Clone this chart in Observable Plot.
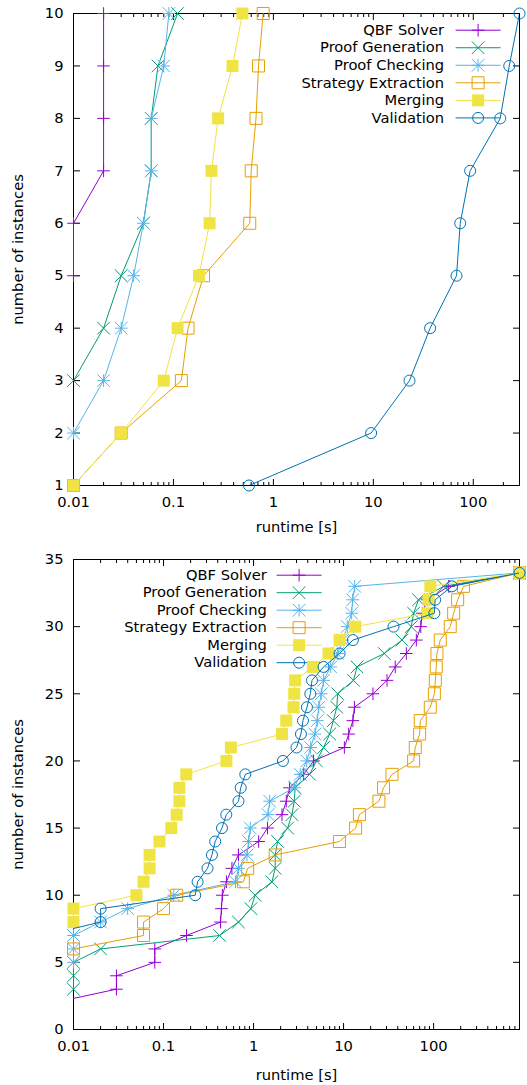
<!DOCTYPE html>
<html><head><meta charset="utf-8">
<script src="https://cdn.jsdelivr.net/npm/d3@7"></script>
<script src="https://cdn.jsdelivr.net/npm/@observablehq/plot@0.6"></script>
<style>body{margin:0;background:#fff;} #chart svg{display:block;}</style>
</head><body><div id="chart"></div>
<script>
const seriesNames = ["QBF Solver","Proof Generation","Proof Checking","Strategy Extraction","Merging","Validation"];
const seriesColors = ["#9400d3","#009e73","#56b4e9","#e69f00","#f0e442","#0072b2"];
const xLabel = "runtime [s]";
const yLabel = "number of instances";
const xMajorTicks = [0.01, 0.1, 1, 10, 100];

// ---- top panel (runtime for instance count n) ----
const topYTicks = [1,2,3,4,5,6,7,8,9,10];
const topStart = [5, 3, 2, 1, 1, 1];
const topQbf        = [0.01, 0.01, 0.02, 0.02, 0.02, 0.02];
const topProofGen   = [0.01, 0.02, 0.03, 0.05, 0.06, 0.06, 0.07, 0.11];
const topProofCheck = [0.01, 0.02, 0.03, 0.04, 0.05, 0.06, 0.06, 0.08, 0.09];
const topStrategy   = [0.01, 0.03, 0.12, 0.14, 0.2, 0.58, 0.6, 0.67, 0.71, 0.79];
const topMerging    = [0.01, 0.03, 0.08, 0.11, 0.18, 0.23, 0.24, 0.28, 0.39, 0.49];
const topValidation = [0.57, 9.5, 23, 37, 68, 74, 93, 186, 229, 290];

// ---- bottom panel ----
const botYTicks = [0,5,10,15,20,25,30,35];
const botStart = [2, 3, 5, 6, 8, 7];
const botQbf        = [0.006,0.03,0.03,0.08,0.08,0.18,0.43,0.44,0.45,0.5,0.575,0.68,1.14,1.43,2.07,2.31,2.51,3.6,4.64,10.2,11.4,12.7,13.2,21.2,30.4,37.5,49.8,64.3,72,75,85,147,900];
const botProofGen   = [0.01,0.01,0.01,0.02,0.42,0.68,0.935,1.04,1.6,1.74,1.74,1.85,2.39,2.67,2.83,2.9,4.2,5.0,6.0,7.0,7.7,8.4,8.6,12.9,14.1,28.3,44.6,56.5,60,68,130,900];
const botProofCheck = [0.01,0.01,0.01,0.02,0.04,0.13,0.63,0.68,0.845,0.88,0.92,1.45,1.51,2.85,3.3,3.9,4.3,4.8,5.1,5.3,5.65,6.0,7.2,8.6,9.8,11.0,12.3,12.6,13.3,900];
const botStrategy   = [0.01,0.06,0.06,0.1,0.14,0.77,0.86,1.74,9.0,13.6,15,24.7,27.8,34.5,60,62.6,69.9,71.1,91.9,102,104.5,107,109,118.6,153,167,185,215,900];
const botMerging    = [0.01,0.01,0.05,0.06,0.07,0.07,0.09,0.122,0.14,0.15,0.15,0.179,0.5,0.56,2.07,2.31,2.78,2.83,2.9,4.57,6.81,9.03,13.5,86,88,92,900];
const botValidation = [0.0047,0.02,0.02,0.225,0.239,0.308,0.345,0.375,0.446,0.498,0.68,0.72,0.81,2.12,3.0,3.36,3.54,3.92,4.27,4.46,6.0,9.03,12.7,35.9,102,104,160,900];

// ---- symbols (gnuplot point types) ----
const A = 6.3;
const symPlus = {draw(c){c.moveTo(-A,0);c.lineTo(A,0);c.moveTo(0,-A);c.lineTo(0,A);}};
const symTimes = {draw(c){c.moveTo(-A,-A);c.lineTo(A,A);c.moveTo(-A,A);c.lineTo(A,-A);}};
const symAst = {draw(c){c.moveTo(-A,0);c.lineTo(A,0);c.moveTo(0,-A);c.lineTo(0,A);c.moveTo(-A,-A);c.lineTo(A,A);c.moveTo(-A,A);c.lineTo(A,-A);}};
const S = 6;
const symSquare = {draw(c){c.moveTo(-S,-S);c.lineTo(S,-S);c.lineTo(S,S);c.lineTo(-S,S);c.closePath();}};
const R = 5.5;
const symCircle = {draw(c){c.moveTo(R,0);c.arc(0,0,R,0,2*Math.PI);}};
const seriesSymbols = [symPlus, symTimes, symAst, symSquare, symSquare, symCircle];
const seriesFilled = [false, false, false, false, true, false];
const vTick = (l) => ({draw(c){c.moveTo(0,0);c.lineTo(0,l);}});
const hTick = (l) => ({draw(c){c.moveTo(0,0);c.lineTo(l,0);}});
const hSample = {draw(c){c.moveTo(-22.5,0);c.lineTo(22.5,0);}};

function rows(xs, start){ return xs.map((x,i)=>({x, y: start + i})); }

function panel(o){
  const marks = [];
  const minor = d3.scaleLog().domain(o.xDomain).ticks().filter(t => !xMajorTicks.some(m => Math.abs(m - t) < 1e-9));
  marks.push(Plot.frame({stroke:"black", strokeWidth:1}));
  const tk = {stroke:"black", fill:"none", strokeWidth:1};
  marks.push(Plot.dot(xMajorTicks, {x:d=>d, frameAnchor:"bottom", symbol: vTick(-6.5), ...tk}));
  marks.push(Plot.dot(xMajorTicks, {x:d=>d, frameAnchor:"top", symbol: vTick(6.5), ...tk}));
  marks.push(Plot.dot(minor, {x:d=>d, frameAnchor:"bottom", symbol: vTick(-3.5), ...tk}));
  marks.push(Plot.dot(minor, {x:d=>d, frameAnchor:"top", symbol: vTick(3.5), ...tk}));
  marks.push(Plot.dot(o.yTicks, {y:d=>d, frameAnchor:"left", symbol: hTick(6.5), ...tk}));
  marks.push(Plot.dot(o.yTicks, {y:d=>d, frameAnchor:"right", symbol: hTick(-6.5), ...tk}));
  marks.push(Plot.axisX({ticks: xMajorTicks, tickSize: 0, tickPadding: 11, tickFormat: d => String(d), label: null}));
  marks.push(Plot.axisY({ticks: o.yTicks, tickSize: 0, tickPadding: 10, tickFormat: d => String(d), label: null}));
  marks.push(Plot.text([xLabel], {frameAnchor:"bottom", dy: o.xLabelDy, lineAnchor:"middle", textAnchor:"middle", text: d=>d}));
  marks.push(Plot.text([yLabel], {frameAnchor:"left", dx: -55, rotate: -90, textAnchor:"middle", lineAnchor:"middle", text: d=>d}));
  // legend
  seriesNames.forEach((name, i) => {
    const dy = o.legDy0 + i * o.legStep;
    const col = seriesColors[i];
    marks.push(Plot.text([name], {frameAnchor:"top-right", dx: o.legTextDx, dy, textAnchor:"end", lineAnchor:"middle", text:d=>d, fill:"black"}));
    marks.push(Plot.dot([name], {frameAnchor:"top-right", dx: o.legSampleDx, dy, symbol: hSample, stroke: col, fill:"none", strokeWidth:1}));
    marks.push(Plot.dot([name], {frameAnchor:"top-right", dx: o.legSampleDx, dy, symbol: seriesSymbols[i],
      stroke: seriesFilled[i] ? "none" : col, fill: seriesFilled[i] ? col : "none", strokeWidth:1}));
  });
  // data
  o.series.forEach((xs, i) => {
    const data = rows(xs, o.starts[i]);
    const col = seriesColors[i];
    marks.push(Plot.line(data, {x:"x", y:"y", stroke: col, strokeWidth:1, clip: true}));
    marks.push(Plot.dot(data.filter(d => d.x >= o.xDomain[0]), {x:"x", y:"y", symbol: seriesSymbols[i],
      stroke: seriesFilled[i] ? "none" : col, fill: seriesFilled[i] ? col : "none", strokeWidth:1}));
  });
  return Plot.plot({
    width: 527, height: o.height,
    marginLeft: 73, marginRight: 8, marginTop: o.marginTop, marginBottom: o.marginBottom,
    style: {fontFamily: "DejaVu Sans", fontSize: "14.7px", background: "white", color: "black"},
    x: {type: "log", domain: o.xDomain},
    y: {domain: o.yDomain},
    marks
  });
}

const chart = document.getElementById("chart");
chart.append(panel({
  height: 545, marginTop: 13, marginBottom: 60,
  xDomain: [0.01, 290], yDomain: [1, 10], yTicks: topYTicks, xLabelDy: 42,
  starts: topStart,
  series: [topQbf, topProofGen, topProofCheck, topStrategy, topMerging, topValidation],
  legTextDx: -75.4, legSampleDx: -41.4, legDy0: 16.7, legStep: 17.54
}));
chart.append(panel({
  height: 540, marginTop: 14, marginBottom: 56,
  xDomain: [0.01, 900], yDomain: [0, 35], yTicks: botYTicks, xLabelDy: 46,
  starts: botStart,
  series: [botQbf, botProofGen, botProofCheck, botStrategy, botMerging, botValidation],
  legTextDx: -252.7, legSampleDx: -220.4, legDy0: 15.7, legStep: 17.5
}));
</script></body></html>
